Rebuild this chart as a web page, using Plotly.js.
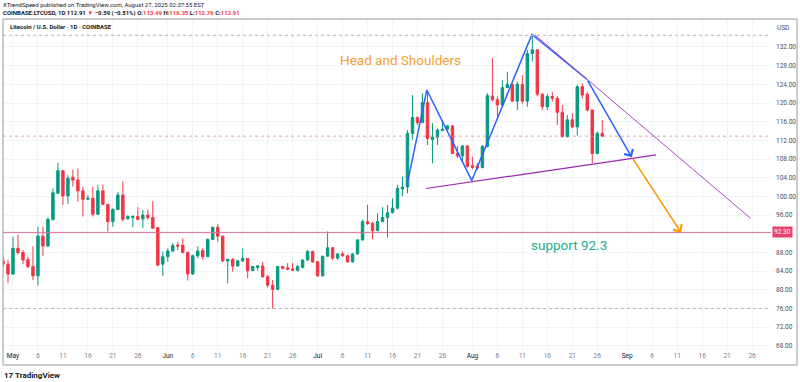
<!DOCTYPE html>
<html><head><meta charset="utf-8">
<script src="https://cdn.plot.ly/plotly-3.0.1.min.js"></script>
<style>html,body{margin:0;padding:0;background:#fff;}#chart{width:800px;height:382px;}</style>
</head><body><div id="chart"></div>
<script>
// ---- data (LTC/USD daily, COINBASE) ----
const dates = [
'2025-04-29','2025-04-30',
'2025-05-01','2025-05-02','2025-05-03','2025-05-04','2025-05-05','2025-05-06','2025-05-07','2025-05-08','2025-05-09','2025-05-10',
'2025-05-11','2025-05-12','2025-05-13','2025-05-14','2025-05-15','2025-05-16','2025-05-17','2025-05-18','2025-05-19','2025-05-20',
'2025-05-21','2025-05-22','2025-05-23','2025-05-24','2025-05-25','2025-05-26','2025-05-27','2025-05-28','2025-05-29','2025-05-30','2025-05-31',
'2025-06-01','2025-06-02','2025-06-03','2025-06-04','2025-06-05','2025-06-06','2025-06-07','2025-06-08','2025-06-09','2025-06-10',
'2025-06-11','2025-06-12','2025-06-13','2025-06-14','2025-06-15','2025-06-16','2025-06-17','2025-06-18','2025-06-19','2025-06-20',
'2025-06-21','2025-06-22','2025-06-23','2025-06-24','2025-06-25','2025-06-26','2025-06-27','2025-06-28','2025-06-29','2025-06-30',
'2025-07-01','2025-07-02','2025-07-03','2025-07-04','2025-07-05','2025-07-06','2025-07-07','2025-07-08','2025-07-09','2025-07-10',
'2025-07-11','2025-07-12','2025-07-13','2025-07-14','2025-07-15','2025-07-16','2025-07-17','2025-07-18','2025-07-19','2025-07-20',
'2025-07-21','2025-07-22','2025-07-23','2025-07-24','2025-07-25','2025-07-26','2025-07-27','2025-07-28','2025-07-29','2025-07-30','2025-07-31',
'2025-08-01','2025-08-02','2025-08-03','2025-08-04','2025-08-05','2025-08-06','2025-08-07','2025-08-08','2025-08-09','2025-08-10',
'2025-08-11','2025-08-12','2025-08-13','2025-08-14','2025-08-15','2025-08-16','2025-08-17','2025-08-18','2025-08-19','2025-08-20',
'2025-08-21','2025-08-22','2025-08-23','2025-08-24','2025-08-25','2025-08-26','2025-08-27'
];
const openP = [
86.2,85.5,
83.4,88.9,88.0,86.5,85.0,83.0,91.5,89.4,95.0,100.7,105.5,100.1,104.1,103.5,101.2,99.4,99.6,96.2,101.2,98.3,94.6,97.2,100.3,95.2,95.5,95.7,95.2,96.0,95.5,93.3,85.5,
87.1,88.3,89.6,89.5,88.0,83.4,87.3,88.4,87.1,90.8,93.4,91.5,86.2,86.5,85.1,86.2,86.7,84.1,84.8,85.1,82.8,81.0,80.1,85.0,84.7,84.5,84.2,84.8,86.4,88.2,
86.0,83.0,87.2,89.0,86.8,87.7,87.3,86.0,87.7,90.7,94.6,94.2,92.7,94.6,95.5,96.5,97.5,101.6,102.0,113.5,116.9,115.8,120.1,112.2,112.7,114.1,114.4,115.1,109.2,108.7,110.8,
106.6,106.5,106.2,110.7,121.5,120.7,119.6,123.3,124.0,120.4,124.0,120.4,130.6,131.4,121.9,119.2,121.4,121.0,118.0,112.8,116.4,114.9,123.5,121.9,118.5,109.2,113.49
];
const highP = [
87.3,86.4,
91.4,91.8,88.5,87.1,89.3,93.5,93.5,95.5,101.7,107.2,105.7,104.6,105.7,106.0,102.1,100.3,102.1,102.5,102.5,98.4,97.5,101.0,103.2,96.0,96.0,97.7,97.1,97.2,99.0,93.5,88.2,
88.9,90.0,90.3,91.0,88.2,87.5,89.3,88.9,91.0,93.5,94.1,91.6,86.7,86.8,86.4,88.9,86.8,85.1,85.3,86.0,83.2,82.1,85.1,85.1,85.7,85.8,85.3,86.5,88.5,88.4,
86.2,87.3,92.5,89.2,87.8,88.2,87.5,87.8,90.8,95.0,98.2,94.6,96.4,97.7,98.2,99.6,102.5,104.2,114.2,121.7,117.1,122.1,122.4,115.7,114.6,116.4,115.3,115.3,110.8,111.0,111.0,
108.5,107.2,111.0,122.1,129.6,121.4,124.9,126.7,124.2,124.6,126.0,131.4,134.5,131.4,122.1,121.9,122.4,121.5,119.6,117.4,117.8,123.9,124.2,122.4,118.6,113.9,116.35
];
const lowP = [
84.9,81.4,
83.2,87.5,85.5,84.6,82.1,80.9,87.3,89.2,95.0,100.5,98.2,98.4,102.1,98.9,95.7,99.2,95.7,96.0,98.2,92.5,93.5,97.1,94.6,95.1,93.4,95.0,93.2,95.0,93.0,85.0,83.0,
86.0,88.2,88.5,87.8,82.0,83.2,86.8,86.5,87.1,90.7,90.3,86.0,81.4,83.9,85.0,86.0,82.5,84.1,84.1,82.7,80.5,76.0,80.1,84.4,84.2,84.1,83.9,84.6,86.2,85.8,
82.8,82.8,87.1,86.4,86.4,87.1,85.8,85.8,87.5,90.5,93.9,90.8,92.5,94.6,91.2,96.4,97.2,100.0,100.7,112.1,115.3,115.7,111.0,107.1,111.0,114.1,114.2,109.1,108.2,107.1,106.2,
105.8,105.7,106.0,110.5,120.3,117.1,119.4,123.2,120.3,118.5,119.9,119.2,128.9,121.4,118.5,118.5,120.3,115.3,112.6,112.6,114.6,113.0,121.0,118.2,107.1,109.0,112.76
];
const closeP = [
85.5,83.4,
88.9,88.0,86.4,85.0,83.0,91.5,89.4,95.1,100.8,105.5,100.1,103.9,103.5,101.2,99.4,99.6,96.2,101.2,98.3,94.6,97.2,100.3,95.1,95.7,95.7,95.1,96.0,95.5,93.2,85.3,87.1,
88.3,89.5,89.4,88.0,83.4,87.3,88.3,87.1,90.8,93.4,91.5,86.2,86.5,85.1,86.2,86.7,84.1,85.0,85.1,82.8,81.0,80.1,85.0,84.6,84.4,84.2,85.0,86.4,88.2,86.0,
83.0,87.2,89.0,86.8,87.7,87.3,86.0,87.7,90.7,94.6,94.2,92.7,94.6,95.5,96.5,97.5,101.7,102.0,113.5,116.9,115.8,120.1,112.4,112.7,114.2,114.4,115.1,109.2,108.7,110.8,106.4,
106.2,106.1,110.7,121.6,120.7,119.6,123.3,124.0,120.4,124.0,120.4,130.6,131.4,121.9,119.2,121.4,121.0,118.0,112.8,116.4,114.9,123.5,121.7,118.5,109.2,113.5,112.91
];
const tickDates = ['2025-05-01','2025-05-06','2025-05-11','2025-05-16','2025-05-21','2025-05-26',
'2025-06-01','2025-06-06','2025-06-11','2025-06-16','2025-06-21','2025-06-26',
'2025-07-01','2025-07-06','2025-07-11','2025-07-16','2025-07-21','2025-07-26',
'2025-08-01','2025-08-06','2025-08-11','2025-08-16','2025-08-21','2025-08-26',
'2025-09-01','2025-09-06','2025-09-11','2025-09-16','2025-09-21','2025-09-26'];
const tickLabels = ['May','6','11','16','21','26','Jun','6','11','16','21','26','Jul','6','11','16','21','26','Aug','6','11','16','21','26','Sep','6','11','16','21','26'];
const monthNames = ['May','Jun','Jul','Aug','Sep'];
const priceTicks = [68,72,76,80,84,88,92,96,100,104,108,112,116,120,124,128,132];
const supportLevel = 92.3;
// drawing anchors (date, price)
const hsX = ['2025-07-18 20:00','2025-07-22 21:00','2025-07-31 21:00','2025-08-12 22:00','2025-08-23 22:00'];
const hsY = [102.1,122.8,103.4,134.7,125.1];
const hsEnd = {x:'2025-09-01 22:00', y:108.4};
const neckX = ['2025-07-22 17:00','2025-09-06 19:00'];
const neckY = [101.7,108.9];
const trendX = ['2025-08-13 12:00','2025-09-25 17:00'];
const trendY = [134.6,95.3];
const targetEnd = {x:'2025-09-11 19:00', y:92.25};

const F = 'Roboto, "Liberation Sans", Arial, sans-serif';
const RED = '#f23645', GREEN = '#089981';

const traces = [
 {type:'candlestick', x:dates, open:openP, high:highP, low:lowP, close:closeP,
  increasing:{line:{color:GREEN,width:1}, fillcolor:GREEN},
  decreasing:{line:{color:RED,width:1}, fillcolor:RED},
  whiskerwidth:0, hoverinfo:'skip'},
 {type:'scatter', mode:'lines', x:hsX, y:hsY, line:{color:'#2962ff',width:1.5}, hoverinfo:'skip'},
 {type:'scatter', mode:'lines', x:neckX, y:neckY, line:{color:'#9c27b0',width:1.2}, hoverinfo:'skip'},
 {type:'scatter', mode:'lines', x:trendX, y:trendY, line:{color:'#ab47bc',width:1}, hoverinfo:'skip'}
];

const maxHigh = Math.max(...highP), minLow = Math.min(...lowP), lastClose = closeP[closeP.length-1];

const shapes = [
 {type:'line', xref:'paper', x0:0, x1:1, yref:'y', y0:supportLevel, y1:supportLevel, line:{color:'#e0709a',width:1}},
 {type:'line', xref:'paper', x0:0, x1:1, yref:'y', y0:maxHigh, y1:maxHigh, line:{color:'#b2b5be',width:1,dash:'dot'}},
 {type:'line', xref:'paper', x0:0, x1:1, yref:'y', y0:minLow, y1:minLow, line:{color:'#b2b5be',width:1,dash:'dot'}},
 {type:'line', xref:'paper', x0:0, x1:1, yref:'y', y0:lastClose, y1:lastClose, line:{color:'rgba(220,120,130,0.7)',width:1,dash:'dot'}},
 {type:'rect', xref:'paper', yref:'paper', x0:0, x1:1.0339, y0:-0.0455, y1:1.003, line:{color:'#9598a1',width:1}, fillcolor:'rgba(0,0,0,0)'}
];

const tickText = tickLabels.map(t => monthNames.includes(t) ? "<span style='color:#131722'>"+t+"</span>" : t);
// the 92.30 marker label covers the 92.00 price label (as on the original)
const priceText = priceTicks.map(v => Math.abs(v - supportLevel) < 1 ? '' : v.toFixed(2));

const annotations = [
 {x:hsEnd.x, y:hsEnd.y, ax:hsX[hsX.length-1], ay:hsY[hsY.length-1], xref:'x', yref:'y', axref:'x', ayref:'y',
  showarrow:true, arrowhead:4, arrowsize:1.3, arrowwidth:1.5, arrowcolor:'#2962ff', text:''},
 {x:targetEnd.x, y:targetEnd.y, ax:hsEnd.x, ay:hsEnd.y, xref:'x', yref:'y', axref:'x', ayref:'y',
  showarrow:true, arrowhead:4, arrowsize:1.3, arrowwidth:1.5, arrowcolor:'#ff9800', text:''},
 {x:'2025-07-05 02:00', y:129.2, xref:'x', yref:'y', xanchor:'left', yanchor:'middle', showarrow:false,
  text:'Head and Shoulders', font:{family:F, size:13.5, color:'#f7a030'}},
 {x:'2025-08-12 08:00', y:89.6, xref:'x', yref:'y', xanchor:'left', yanchor:'middle', showarrow:false,
  text:'support '+supportLevel, font:{family:F, size:13.5, color:'#22ab94'}},
 {x:1.0156, y:supportLevel, xref:'paper', yref:'y', xanchor:'center', yanchor:'middle', showarrow:false,
  text:supportLevel.toFixed(2), bgcolor:'#e9406e', borderpad:1, font:{family:F, size:6.5, color:'#ffffff'}},
 {x:1.0156, y:0.9758, xref:'paper', yref:'paper', xanchor:'center', yanchor:'middle', showarrow:false,
  text:'USD', font:{family:F, size:6.5, color:'#4a4d57'}},
 {x:0.0065, y:0.9818, xref:'paper', yref:'paper', xanchor:'left', yanchor:'middle', showarrow:false,
  text:'<b>Litecoin / U.S. Dollar · 1D · COINBASE</b>', font:{family:F, size:6, color:'#131722'}},
 {x:-0.003, y:1.0455, xref:'paper', yref:'paper', xanchor:'left', yanchor:'middle', showarrow:false,
  text:'XTrendSpeed published on TradingView.com, August 27, 2025 02:37:55 EST', font:{family:F, size:6, color:'#131722'}},
 {x:-0.003, y:1.0212, xref:'paper', yref:'paper', xanchor:'left', yanchor:'middle', showarrow:false,
  text:"<b>COINBASE:LTCUSD, 1D 112.91 <span style='color:#f23645'>▼</span> −0.59 (−0.51%) O:<span style='color:#f23645'>113.49</span> H:<span style='color:#f23645'>116.35</span> L:<span style='color:#f23645'>112.76</span> C:<span style='color:#f23645'>112.91</span></b>",
  font:{family:F, size:6, color:'#131722'}},
 {x:-0.001, y:-0.0758, xref:'paper', yref:'paper', xanchor:'left', yanchor:'middle', showarrow:false,
  text:'<b>17 TradingView</b>', font:{family:F, size:8, color:'#131722'}}
];

const layout = {
 width:800, height:382, margin:{l:3, r:29, t:20, b:32, pad:0},
 paper_bgcolor:'#ffffff', plot_bgcolor:'#ffffff', showlegend:false,
 xaxis:{type:'date', range:['2025-04-29 00:00','2025-09-29 19:00'], tickmode:'array', tickvals:tickDates, ticktext:tickText,
  showgrid:true, gridcolor:'#f0f3fa', gridwidth:1, zeroline:false, showline:false, ticks:'',
  tickfont:{family:F, size:6.5, color:'#787b86'}, rangeslider:{visible:false}, fixedrange:true},
 yaxis:{side:'right', range:[67.12,137.78], tickmode:'array', tickvals:priceTicks, ticktext:priceText,
  showgrid:true, gridcolor:'#f0f3fa', gridwidth:1, zeroline:false, showline:false, ticks:'', ticklabelstandoff:4,
  tickfont:{family:F, size:6.5, color:'#4a4d57'}, fixedrange:true},
 shapes:shapes, annotations:annotations
};

Plotly.newPlot('chart', traces, layout, {displayModeBar:false, staticPlot:true});
</script>
</body></html>
